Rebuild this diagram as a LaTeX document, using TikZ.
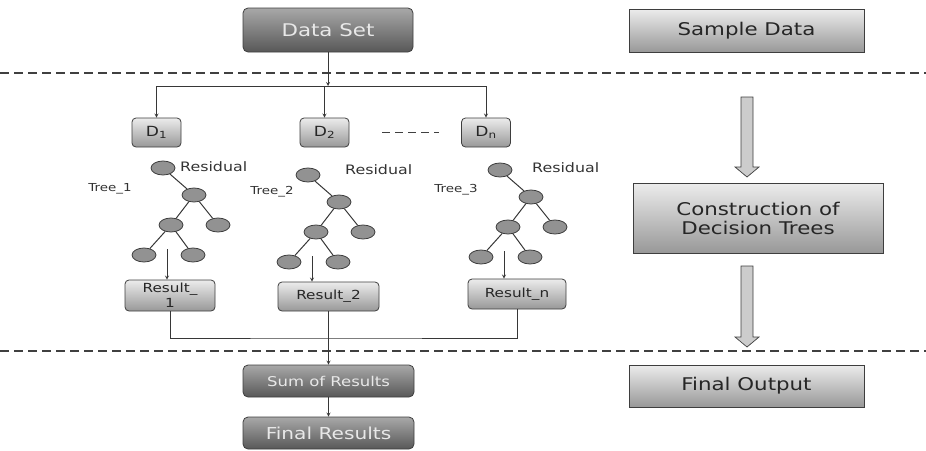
\documentclass[tikz,border=0pt]{standalone}
\usepackage{fontspec}
\setmainfont[FakeStretch=1.22]{DejaVu Sans}
\usetikzlibrary{shapes.geometric}

\definecolor{darktop}{RGB}{168,168,168}
\definecolor{darkbot}{RGB}{88,88,88}
\definecolor{lighttop}{RGB}{236,236,236}
\definecolor{lightbot}{RGB}{152,152,152}
\definecolor{edge}{RGB}{62,62,62}
\definecolor{wire}{RGB}{55,55,55}
\definecolor{leaf}{RGB}{146,146,146}
\definecolor{paletext}{RGB}{232,232,232}

\begin{document}
\begin{tikzpicture}[
  x=1pt, y=-1pt,
  darkbox/.style={rounded corners=5pt, draw=edge, line width=0.8pt, top color=darktop, bottom color=darkbot, text=paletext, inner sep=0pt, align=center},
  panel/.style={draw=edge, line width=0.8pt, top color=lighttop, bottom color=lightbot, text=black!85, inner sep=0pt, align=center, font=\fontsize{17.5}{19}\selectfont},
  smallbox/.style={rounded corners=4pt, draw=edge, line width=0.8pt, top color=lighttop, bottom color=lightbot, text=black!85, inner sep=0pt, align=center},
  knot/.style={ellipse, draw=edge, line width=0.8pt, fill=leaf, minimum width=24pt, minimum height=14pt, inner sep=0pt},
  arr/.style={->, >=stealth, wire, line width=0.8pt},
  wired/.style={wire, line width=0.8pt},
  branch/.style={wire, line width=1pt},
  sep/.style={dash pattern=on 9pt off 5pt, line width=1.7pt, black!75},
  blockarr/.style={draw=edge, fill=gray!40, line width=0.7pt},
  lbl/.style={text=black!80, inner sep=0pt},
]
\useasboundingbox (0,0) rectangle (926,450);

% --- top: data set ---
\node[darkbox, minimum width=170pt, minimum height=44pt, font=\fontsize{17.5}{20}\selectfont] (data) at (328,30) {Data Set};
\node[panel, minimum width=235pt, minimum height=43pt] (sample) at (746.5,30.5) {Sample Data};

% separators
\draw[sep] (0,73) -- (926,73);
\draw[sep] (0,351) -- (926,351);

% --- subsets ---
\node[smallbox, minimum width=49pt, minimum height=29pt, font=\fontsize{14}{16}\selectfont] (d1) at (156.5,132.5) {D\textsubscript{1}};
\node[smallbox, minimum width=49pt, minimum height=29pt, font=\fontsize{14}{16}\selectfont] (d2) at (324.5,132.5) {D\textsubscript{2}};
\node[smallbox, minimum width=49pt, minimum height=29pt, font=\fontsize{14}{16}\selectfont] (dn) at (486,132.5) {D\textsubscript{n}};

\coordinate (split) at (328,86);
\draw[arr] (data.south) -- (split);
\draw[wired] (d1 |- split) -- (dn |- split);
\foreach \d in {d1,d2,dn}
  \draw[arr] (\d |- split) -- (\d.north);
\draw[dash pattern=on 8pt off 5pt, line width=1.7pt, black!75] ([xshift=33pt]d2.east) -- ([xshift=-22pt]dn.west);

% --- results ---
\node[smallbox, minimum width=90pt, minimum height=31pt, font=\fontsize{12.5}{15}\selectfont] (res1) at (170,295.5) {Result\_\\1};
\node[smallbox, minimum width=101pt, minimum height=29pt, font=\fontsize{12.5}{15}\selectfont] (res2) at (328.5,296.5) {Result\_2};
\node[smallbox, minimum width=98pt, minimum height=30pt, font=\fontsize{12.5}{15}\selectfont] (res3) at (517,294) {Result\_n};

% --- trees ---
\foreach \t/\x/\y/\rx/\ry/\lx/\ly in {1/163/168/180/167/110/189, 2/308/175/345/170/272/192, 3/500/170/532/168/456/190} {
  \node[knot] (r\t) at (\x,\y) {};
  \node[knot] (a\t) at ({\x+31},{\y+27}) {};
  \node[knot] (b\t) at ({\x+8},{\y+57}) {};
  \node[knot] (c\t) at ({\x+55},{\y+57}) {};
  \node[knot] (e\t) at ({\x-19},{\y+87}) {};
  \node[knot] (f\t) at ({\x+30},{\y+87}) {};
  \draw[branch] (r\t) -- (a\t) (a\t) -- (b\t) (a\t) -- (c\t) (b\t) -- (e\t) (b\t) -- (f\t);
  \node[lbl, anchor=west, font=\fontsize{13}{15}\selectfont] (resid\t) at (\rx,\ry) {Residual};
  \node[lbl, font=\fontsize{11}{13}\selectfont] (name\t) at (\lx,\ly) {Tree\_\t};
  \coordinate (s\t) at ([xshift=-4pt,yshift=-24pt]b\t.center);
  \draw[arr] (s\t) -- (s\t |- res\t.north);
}

% --- combine ---
\node[darkbox, minimum width=171pt, minimum height=32pt, font=\fontsize{13.5}{16}\selectfont] (sum) at (328.5,381) {Sum of Results};
\node[darkbox, minimum width=171pt, minimum height=32pt, font=\fontsize{16.5}{19}\selectfont] (final) at (328.5,433) {Final Results};

\coordinate (merge) at (328.5,338);
\draw[wired] (res1.south) |- (merge) -| (res3.south);
\draw[arr] (res2.south) -- (sum.north);
\draw[arr] (sum.south) -- (final.north);

% --- right column ---
\node[panel, minimum width=250pt, minimum height=70pt] (build) at (758,218) {Construction of\\Decision Trees};
\node[panel, minimum width=235pt, minimum height=42pt] (output) at (746.5,386) {Final Output};

\foreach \a/\b in {97/177, 266/347}
  \draw[blockarr] (741,\a) -- (753,\a) -- (753,{\b-10}) -- (759,{\b-10}) -- (747,\b) -- (735,{\b-10}) -- (741,{\b-10}) -- cycle;

\end{tikzpicture}
\end{document}
